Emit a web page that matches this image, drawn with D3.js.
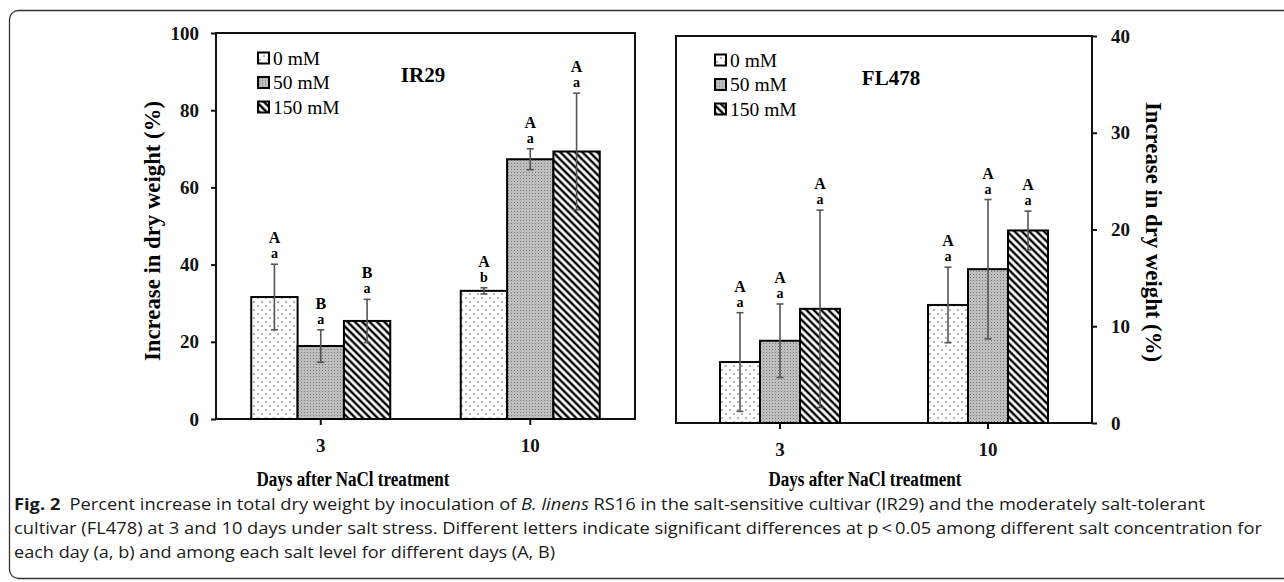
<!DOCTYPE html>
<html>
<head>
<meta charset="utf-8">
<script src="https://cdnjs.cloudflare.com/ajax/libs/d3/7.8.5/d3.min.js"></script>
<style>
  body { margin: 0; background: #fff; }
  svg { display: block; }
  .serif { font-family: "Liberation Serif", "Times New Roman", serif; }
</style>
</head>
<body>
<svg id="chart" width="1284" height="582"></svg>
<script>
// data
var days = ["3", "10"];
var salts = ["0 mM", "50 mM", "150 mM"];

// IR29, [day][salt]
var ir29Mean = [[31.6, 18.9, 25.4], [33.2, 67.3, 69.3]];
var ir29Err = [[8.5, 4.2, 5.6], [0.8, 2.7, 15.1]];
var ir29Upper = [["A", "B", "B"], ["A", "A", "A"]];
var ir29Lower = [["a", "a", "a"], ["b", "a", "a"]];

// FL478, [day][salt]
var fl478Mean = [[6.3, 8.5, 11.8], [12.2, 15.9, 19.9]];
var fl478Err = [[5.1, 3.8, 10.2], [3.9, 7.2, 2.0]];
var fl478Upper = [["A", "A", "A"], ["A", "A", "A"]];
var fl478Lower = [["a", "a", "a"], ["a", "a", "a"]];

var ir29Ticks = [0, 20, 40, 60, 80, 100];
var fl478Ticks = [0, 10, 20, 30, 40];

var captionLines = [
  "Percent increase in total dry weight by inoculation of |B. linens| RS16 in the salt-sensitive cultivar (IR29) and the moderately salt-tolerant",
  "cultivar (FL478) at 3 and 10 days under salt stress. Different letters indicate significant differences at p\u2009<\u20090.05 among different salt concentration for",
  "each day (a, b) and among each salt level for different days (A, B)"
];

var svg = d3.select('#chart');

// outer frame
svg.append('rect')
  .attr('x', 9.5).attr('y', 10.5)
  .attr('width', 1320).attr('height', 568)
  .attr('rx', 9)
  .attr('fill', 'none')
  .attr('stroke', '#333')
  .attr('stroke-width', 1.3);

// fill patterns
var defs = svg.append('defs');

var dots = defs.append('pattern').attr('id', 'p0')
  .attr('patternUnits', 'userSpaceOnUse').attr('width', 8).attr('height', 8);
dots.append('rect').attr('width', 8).attr('height', 8).attr('fill', '#fff');
dots.append('circle').attr('cx', 2).attr('cy', 2).attr('r', 0.8).attr('fill', '#555');
dots.append('circle').attr('cx', 6).attr('cy', 6).attr('r', 0.8).attr('fill', '#555');

var grey = defs.append('pattern').attr('id', 'p1')
  .attr('patternUnits', 'userSpaceOnUse').attr('width', 3).attr('height', 3);
grey.append('rect').attr('width', 3).attr('height', 3).attr('fill', '#bdbdbd');
grey.append('rect').attr('x', 1).attr('y', 1).attr('width', 1).attr('height', 1).attr('fill', '#7d7d7d');

var hatch = defs.append('pattern').attr('id', 'p2')
  .attr('patternUnits', 'userSpaceOnUse').attr('width', 5.2).attr('height', 5.2)
  .attr('patternTransform', 'rotate(45)');
hatch.append('rect').attr('width', 5.2).attr('height', 5.2).attr('fill', '#fff');
hatch.append('line').attr('x1', 0).attr('y1', 2.6).attr('x2', 5.2).attr('y2', 2.6)
  .attr('stroke', '#000').attr('stroke-width', 2.4);

var fills = ['url(#p0)', 'url(#p1)', 'url(#p2)'];

function drawPanel(cfg){
  var g = svg.append('g').attr('class', 'serif');

  var x = d3.scaleBand().domain(days).range([cfg.left, cfg.right]);
  var y = d3.scaleLinear().domain([0, cfg.max]).range([cfg.bottom, cfg.top]);
  var inner = d3.scaleBand().domain(salts)
    .range([(x.bandwidth() - cfg.group) / 2, (x.bandwidth() + cfg.group) / 2]);

  // box
  g.append('rect')
    .attr('x', cfg.left).attr('y', cfg.top)
    .attr('width', cfg.right - cfg.left).attr('height', cfg.bottom - cfg.top)
    .attr('fill', 'none').attr('stroke', '#111').attr('stroke-width', 2);

  // bars
  var rows = [];
  days.forEach(function(d, i){
    salts.forEach(function(s, j){
      rows.push({day: d, salt: s, j: j, v: cfg.mean[i][j], e: cfg.err[i][j],
                 up: cfg.upper[i][j], lo: cfg.lower[i][j]});
    });
  });

  g.selectAll('rect.bar').data(rows).enter().append('rect')
    .attr('class', 'bar')
    .attr('x', function(d){ return x(d.day) + inner(d.salt); })
    .attr('y', function(d){ return y(d.v); })
    .attr('width', inner.bandwidth())
    .attr('height', function(d){ return y(0) - y(d.v); })
    .attr('fill', function(d){ return fills[d.j]; })
    .attr('stroke', '#000')
    .attr('stroke-width', 2);

  // error bars
  var cx = function(d){ return x(d.day) + inner(d.salt) + inner.bandwidth() / 2; };
  var eb = g.selectAll('g.err').data(rows).enter().append('g').attr('class', 'err')
    .attr('stroke', '#555').attr('stroke-width', 1.6);
  eb.append('line')
    .attr('x1', cx).attr('x2', cx)
    .attr('y1', function(d){ return y(d.v + d.e); })
    .attr('y2', function(d){ return y(d.v - d.e); });
  eb.append('line')
    .attr('x1', function(d){ return cx(d) - 3.5; }).attr('x2', function(d){ return cx(d) + 3.5; })
    .attr('y1', function(d){ return y(d.v + d.e); }).attr('y2', function(d){ return y(d.v + d.e); });
  eb.append('line')
    .attr('x1', function(d){ return cx(d) - 3.5; }).attr('x2', function(d){ return cx(d) + 3.5; })
    .attr('y1', function(d){ return y(d.v - d.e); }).attr('y2', function(d){ return y(d.v - d.e); });

  // significance letters
  g.selectAll('text.up').data(rows).enter().append('text')
    .attr('x', cx).attr('y', function(d){ return y(d.v + d.e) - 21; })
    .attr('text-anchor', 'middle').attr('font-weight', 'bold').attr('font-size', 16)
    .text(function(d){ return d.up; });
  g.selectAll('text.lo').data(rows).enter().append('text')
    .attr('x', cx).attr('y', function(d){ return y(d.v + d.e) - 6; })
    .attr('text-anchor', 'middle').attr('font-weight', 'bold').attr('font-size', 14)
    .text(function(d){ return d.lo; });

  // y axis
  var yAxis = cfg.side === 'left' ? d3.axisLeft(y) : d3.axisRight(y);
  yAxis.tickValues(cfg.ticks).tickSize(5).tickPadding(cfg.side === 'left' ? 12 : 14);
  var ya = g.append('g')
    .attr('transform', 'translate(' + (cfg.side === 'left' ? cfg.left : cfg.right) + ',0)')
    .call(yAxis);
  ya.select('.domain').remove();
  ya.selectAll('line').attr('stroke', '#111').attr('stroke-width', 2);
  ya.selectAll('text').attr('font-family', '"Liberation Serif", serif')
    .attr('font-weight', 'bold').attr('font-size', 19).attr('fill', '#111');

  // x axis
  var xa = g.append('g')
    .attr('transform', 'translate(0,' + cfg.bottom + ')')
    .call(d3.axisBottom(x).tickSize(6).tickPadding(14));
  xa.select('.domain').remove();
  xa.selectAll('line').attr('stroke', '#111').attr('stroke-width', 2);
  xa.selectAll('text').attr('font-family', '"Liberation Serif", serif')
    .attr('font-weight', 'bold').attr('font-size', 19).attr('fill', '#111');

  // axis titles
  g.append('text')
    .attr('transform', 'translate(' + cfg.ylabX + ',' + cfg.ylabY + ') rotate(' + (cfg.side === 'left' ? -90 : 90) + ')')
    .attr('text-anchor', 'middle').attr('dominant-baseline', 'central')
    .attr('font-weight', 'bold').attr('font-size', 23)
    .attr('textLength', 260).attr('lengthAdjust', 'spacingAndGlyphs')
    .text('Increase in dry weight (%)');
  g.append('text')
    .attr('x', cfg.xlabX).attr('y', 486)
    .attr('text-anchor', 'middle').attr('font-weight', 'bold').attr('font-size', 20)
    .attr('textLength', 193).attr('lengthAdjust', 'spacingAndGlyphs')
    .text('Days after NaCl treatment');

  // cultivar name
  g.append('text')
    .attr('x', cfg.titleX).attr('y', cfg.top + 49)
    .attr('text-anchor', 'middle').attr('font-weight', 'bold').attr('font-size', 21)
    .text(cfg.name);

  // legend
  var lg = g.selectAll('g.leg').data(salts).enter().append('g')
    .attr('transform', function(d, i){ return 'translate(' + cfg.legX + ',' + (cfg.legY + i * 24.5) + ')'; });
  lg.append('rect')
    .attr('x', 0).attr('y', -5.5).attr('width', 11).attr('height', 11)
    .attr('fill', function(d, i){ return fills[i]; })
    .attr('stroke', '#000').attr('stroke-width', 2);
  lg.append('text')
    .attr('x', 15).attr('y', 6.5)
    .attr('font-size', 19.5)
    .text(function(d){ return d; });
}

drawPanel({
  name: 'IR29', left: 216, right: 635, top: 33, bottom: 419, max: 100,
  ticks: ir29Ticks, group: 139, side: 'left',
  mean: ir29Mean, err: ir29Err, upper: ir29Upper, lower: ir29Lower,
  ylabX: 152, ylabY: 231, xlabX: 353, titleX: 423, legX: 258, legY: 58
});

drawPanel({
  name: 'FL478', left: 676, right: 1092, top: 36, bottom: 423, max: 40,
  ticks: fl478Ticks, group: 120, side: 'right',
  mean: fl478Mean, err: fl478Err, upper: fl478Upper, lower: fl478Lower,
  ylabX: 1153, ylabY: 232, xlabX: 865, titleX: 891, legX: 715, legY: 60
});

// caption
var cap = svg.append('g')
  .attr('font-family', '"Open Sans", "Noto Sans", sans-serif')
  .attr('font-size', 16).attr('fill', '#1a1a1a');
var capWidths = [1191, 1248, 541];
captionLines.forEach(function(line, i){
  var t = cap.append('text')
    .attr('x', 14).attr('y', 510 + i * 24)
    .attr('textLength', capWidths[i]).attr('lengthAdjust', 'spacingAndGlyphs');
  if(i === 0){
    t.append('tspan').attr('font-weight', 'bold').text('Fig. 2');
    t.append('tspan').text('\u2002');
  }
  line.split('|').forEach(function(part, k){
    t.append('tspan').attr('font-style', k % 2 ? 'italic' : null).text(part);
  });
});
</script>
</body>
</html>
